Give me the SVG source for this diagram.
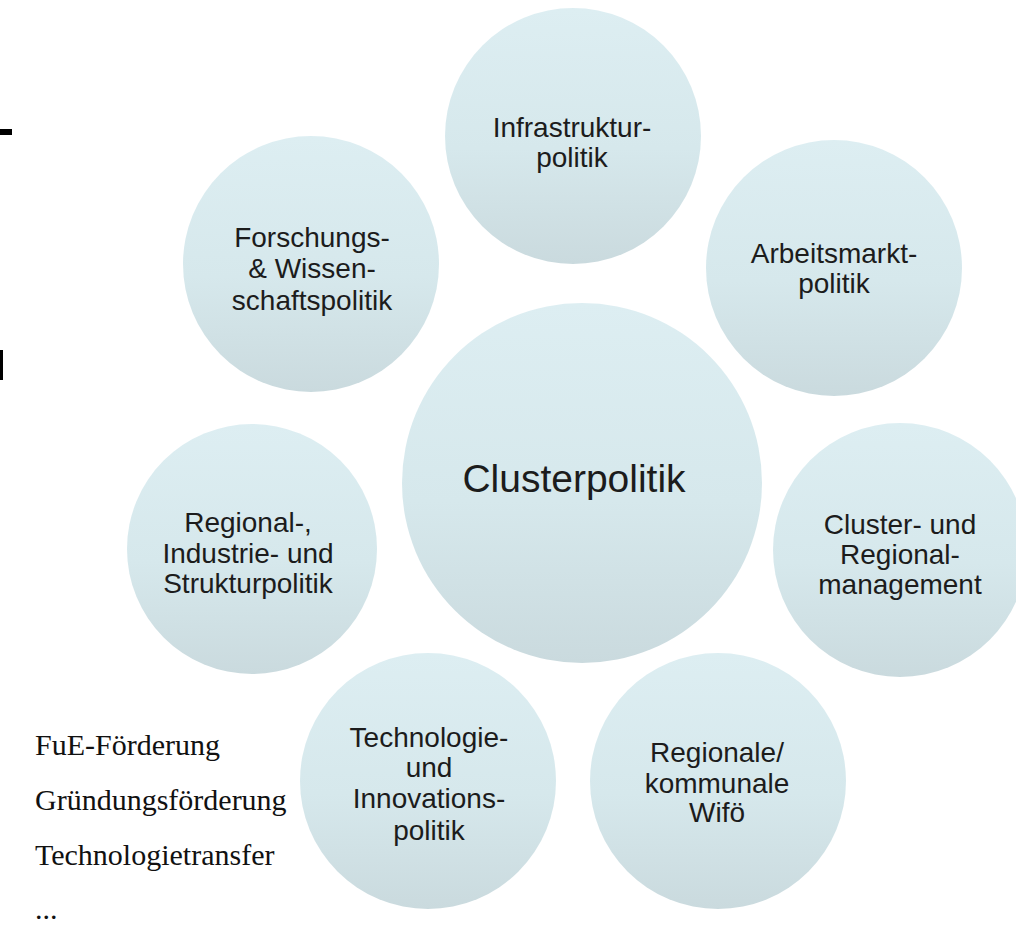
<svg xmlns="http://www.w3.org/2000/svg" width="1016" height="928" viewBox="0 0 1016 928">
  <style>
    .bubble { fill: url(#bubbleFill); }
    .lbl { font-family: "Liberation Sans", Arial, sans-serif; font-size: 28px; fill: #1c1c1c; text-anchor: middle; }
    .core { font-size: 39px; }
    .note { font-family: "Liberation Serif", "Times New Roman", serif; font-size: 30px; fill: #111; }
  </style>
  <defs>
    <linearGradient id="bubbleFill" x1="0" y1="0" x2="0" y2="1">
      <stop offset="0" stop-color="#ddeef2"/>
      <stop offset="0.55" stop-color="#d6e8ec"/>
      <stop offset="1" stop-color="#cadade"/>
    </linearGradient>
  </defs>

  <rect width="1016" height="928" fill="#ffffff"/>

  <!-- cut-off marks at the left edge -->
  <rect x="0" y="129" width="12" height="6" fill="#000"/>
  <rect x="0" y="350" width="3" height="30" fill="#000"/>

  <g id="connectors"></g>

  <g id="node-infrastruktur">
    <circle class="bubble" cx="573" cy="136" r="128"/>
    <text class="lbl" x="572" y="137">Infrastruktur-</text>
    <text class="lbl" x="572" y="167">politik</text>
  </g>

  <g id="node-forschung">
    <circle class="bubble" cx="311" cy="264" r="128"/>
    <text class="lbl" x="312" y="247">Forschungs-</text>
    <text class="lbl" x="312" y="278">&amp; Wissen-</text>
    <text class="lbl" x="312" y="310">schaftspolitik</text>
  </g>

  <g id="node-arbeitsmarkt">
    <circle class="bubble" cx="834" cy="268" r="128"/>
    <text class="lbl" x="834" y="263">Arbeitsmarkt-</text>
    <text class="lbl" x="834" y="293">politik</text>
  </g>

  <g id="node-regional-industrie">
    <circle class="bubble" cx="252" cy="549" r="125"/>
    <text class="lbl" x="248" y="532">Regional-,</text>
    <text class="lbl" x="248" y="563">Industrie- und</text>
    <text class="lbl" x="248" y="593">Strukturpolitik</text>
  </g>

  <g id="node-clusterpolitik">
    <circle class="bubble" cx="582" cy="483" r="180"/>
    <text class="lbl core" x="574" y="492">Clusterpolitik</text>
  </g>

  <g id="node-clustermanagement">
    <circle class="bubble" cx="900" cy="550" r="127"/>
    <text class="lbl" x="900" y="534">Cluster- und</text>
    <text class="lbl" x="900" y="564">Regional-</text>
    <text class="lbl" x="900" y="594">management</text>
  </g>

  <g id="node-technologie">
    <circle class="bubble" cx="428" cy="781" r="128"/>
    <text class="lbl" x="429" y="747">Technologie-</text>
    <text class="lbl" x="429" y="777">und</text>
    <text class="lbl" x="429" y="808">Innovations-</text>
    <text class="lbl" x="429" y="840">politik</text>
  </g>

  <g id="node-wifoe">
    <circle class="bubble" cx="718" cy="781" r="128"/>
    <text class="lbl" x="717" y="762">Regionale/</text>
    <text class="lbl" x="717" y="793">kommunale</text>
    <text class="lbl" x="717" y="822">Wifö</text>
  </g>

  <g id="instruments">
    <text class="note" x="35" y="755">FuE-Förderung</text>
    <text class="note" x="35" y="810">Gründungsförderung</text>
    <text class="note" x="35" y="865">Technologietransfer</text>
    <text class="note" x="35" y="919">...</text>
  </g>
</svg>
